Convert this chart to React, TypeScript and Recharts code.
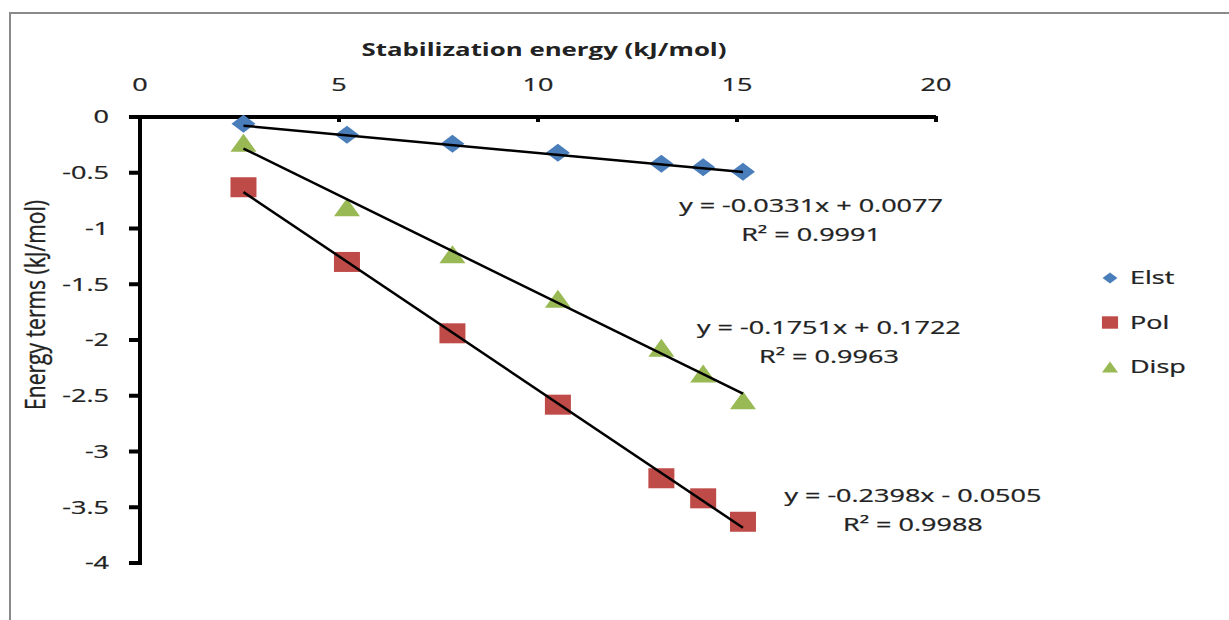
import React from "react";
import {
  ScatterChart,
  Scatter,
  XAxis,
  YAxis,
  ReferenceDot,
} from "recharts";

// values
const stabilization = [2.6, 5.2, 7.85, 10.5, 13.1, 14.15, 15.15];
const elst = [-0.06, -0.16, -0.24, -0.32, -0.42, -0.45, -0.49];
const pol = [-0.63, -1.3, -1.94, -2.58, -3.24, -3.42, -3.63];
const disp = [-0.23, -0.81, -1.23, -1.63, -2.07, -2.3, -2.54];

// trendline end points
const trendX = [2.6, 15.15];
const trendElst = [-0.078, -0.494];
const trendPol = [-0.674, -3.684];
const trendDisp = [-0.283, -2.481];

const xTicks = [0, 5, 10, 15, 20];
const yTicks = [0, -0.5, -1, -1.5, -2, -2.5, -3, -3.5, -4];

const eqText = [
  ["y = -0.0331x + 0.0077", "R² = 0.9991"],
  ["y = -0.1751x + 0.1722", "R² = 0.9963"],
  ["y = -0.2398x - 0.0505", "R² = 0.9988"],
];
const eqAnchorX = [16.86, 17.31, 19.42];
const eqAnchorY = [-0.93, -2.02, -3.53];

const FONT = "'Open Sans', sans-serif";
const INK = "#222";
const STRETCH = 1.5;

const toPoints = (xs: number[], ys: number[]) =>
  xs.map((x, i) => ({ x, y: ys[i] }));

function Diamond({ cx, cy, fill }: any) {
  return (
    <polygon
      points={`${cx - 12},${cy} ${cx},${cy - 9} ${cx + 12},${cy} ${cx},${cy + 9}`}
      fill={fill}
    />
  );
}
function Square({ cx, cy, fill }: any) {
  return <rect x={cx - 13} y={cy - 10} width={26} height={20} fill={fill} />;
}
function Triangle({ cx, cy, fill }: any) {
  return (
    <polygon
      points={`${cx - 13},${cy + 9} ${cx},${cy - 9} ${cx + 13},${cy + 9}`}
      fill={fill}
    />
  );
}

const series = [
  { name: "Elst", values: elst, color: "#4a7ebb", shape: Diamond },
  { name: "Pol", values: pol, color: "#be4b48", shape: Square },
  { name: "Disp", values: disp, color: "#98b954", shape: Triangle },
];

function Wide({ x, y, children, anchor = "middle", weight = 400 }: any) {
  return (
    <text
      transform={`translate(${x} ${y}) scale(${STRETCH} 1)`}
      textAnchor={anchor}
      dy="0.35em"
      fontFamily={FONT}
      fontSize={18}
      fontWeight={weight}
      fill={INK}
      stroke={INK}
      strokeWidth={0.25}
    >
      {children}
    </text>
  );
}

function Legend() {
  return (
    <svg
      width={140}
      height={140}
      style={{ position: "absolute", left: 1090, top: 250 }}
    >
      {series.map((s, i) => {
        const cy = 28 + i * 44.5;
        const Shape = s.shape;
        return (
          <g key={s.name}>
            <g transform={`translate(20 ${cy}) scale(0.62) translate(-20 ${-cy})`}>
              <Shape cx={20} cy={cy} fill={s.color} />
            </g>
            <Wide x={40} y={cy} anchor="start">{s.name}</Wide>
          </g>
        );
      })}
    </svg>
  );
}

// tick marks placed through the chart scales
const yMarks = yTicks.map((t) => ({ x: 0, y: t }));
const xMarks = xTicks.filter((t) => t !== 0).map((t) => ({ x: t, y: 0 }));

export default function App() {
  return (
    <div
      style={{
        position: "absolute",
        left: 0,
        top: 0,
        width: 1229,
        height: 620,
        background: "#fff",
        overflow: "hidden",
      }}
    >
      <div
        style={{
          position: "absolute",
          left: 9,
          top: 12,
          right: -5,
          bottom: -5,
          borderTop: "2px solid #8a8a8a",
          borderLeft: "2px solid #8a8a8a",
        }}
      />
      <ScatterChart
        width={1229}
        height={620}
        margin={{ top: 77, right: 293, bottom: 57, left: 80 }}
        style={{ position: "absolute", left: 0, top: 0 }}
      >
        <XAxis
          type="number"
          dataKey="x"
          orientation="top"
          domain={[0, 20]}
          ticks={xTicks}
          height={40}
          axisLine={{ stroke: "#000", strokeWidth: 4 }}
          tickLine={false}
          tickSize={0}
          tickMargin={32}
          tick={(p: any) => <Wide x={p.x} y={p.y}>{p.payload.value}</Wide>}
          label={(p: any) => {
            const vb = p.viewBox;
            return (
              <text
                x={544}
                y={vb.y - 27}
                dy="0.35em"
                textAnchor="middle"
                textLength={365}
                lengthAdjust="spacingAndGlyphs"
                fontFamily={FONT}
                fontSize={18}
                fontWeight={700}
                fill={INK}
              >
                Stabilization energy (kJ/mol)
              </text>
            );
          }}
        />
        <YAxis
          type="number"
          dataKey="y"
          domain={[-4, 0]}
          ticks={yTicks}
          width={60}
          axisLine={{ stroke: "#000", strokeWidth: 4 }}
          tickLine={false}
          tickSize={10}
          tickMargin={21}
          tick={(p: any) => (
            <Wide x={p.x} y={p.y} anchor="end">{p.payload.value}</Wide>
          )}
          label={() => (
            <text
              transform={`translate(45 305) rotate(-90) scale(1 ${STRETCH})`}
              textAnchor="middle"
              textLength={210}
              lengthAdjust="spacingAndGlyphs"
              fontFamily={FONT}
              fontSize={18}
              fill={INK}
              stroke={INK}
              strokeWidth={0.25}
            >
              Energy terms (kJ/mol)
            </text>
          )}
        />
        <Scatter
          data={yMarks}
          legendType="none"
          shape={(p: any) => (
            <rect x={p.cx - 11} y={p.cy - 2} width={13} height={4} fill="#000" />
          )}
          isAnimationActive={false}
        />
        <Scatter
          data={xMarks}
          legendType="none"
          shape={(p: any) => (
            <rect x={p.cx - 2} y={p.cy - 1} width={4} height={6} fill="#000" />
          )}
          isAnimationActive={false}
        />
        {series.map((s) => (
          <Scatter
            key={s.name}
            name={s.name}
            data={toPoints(stabilization, s.values)}
            fill={s.color}
            shape={(p: any) => <s.shape cx={p.cx} cy={p.cy} fill={s.color} />}
            isAnimationActive={false}
          />
        ))}
        {[trendElst, trendPol, trendDisp].map((t, i) => (
          <Scatter
            key={"trend" + i}
            data={toPoints(trendX, t)}
            line={{ stroke: "#000", strokeWidth: 2.5 }}
            shape={() => <g />}
            legendType="none"
            isAnimationActive={false}
          />
        ))}
        {eqText.map((lines, i) => (
          <ReferenceDot
            key={"eq" + i}
            x={eqAnchorX[i]}
            y={eqAnchorY[i]}
            r={0}
            fill="none"
            stroke="none"
            label={(p: any) => {
              const vb = p.viewBox;
              return (
                <g>
                  <Wide x={vb.x} y={vb.y - 15}>{lines[0]}</Wide>
                  <Wide x={vb.x} y={vb.y + 14}>{lines[1]}</Wide>
                </g>
              );
            }}
          />
        ))}
      </ScatterChart>
      <Legend />
    </div>
  );
}
